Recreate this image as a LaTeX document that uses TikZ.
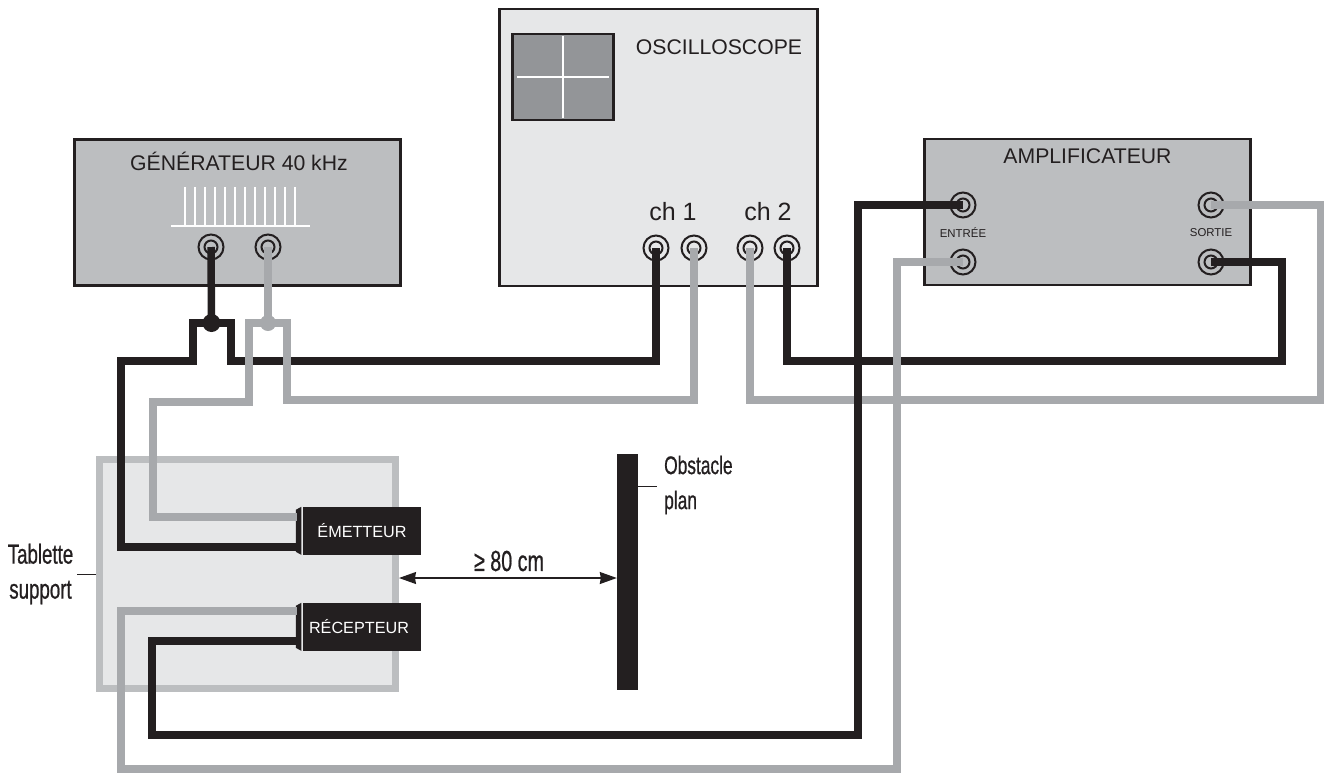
\documentclass[tikz,border=0pt]{standalone}
\usepackage{fontspec}
\setmainfont{Liberation Sans}
\newfontfamily\narrowfont[FakeStretch=0.68,FakeBold=0.7]{Liberation Sans}
\usetikzlibrary{arrows.meta}

\definecolor{wireblack}{HTML}{231F20}
\definecolor{wiregray}{HTML}{A7A9AC}
\definecolor{boxgray}{HTML}{BCBEC0}
\definecolor{boxlight}{HTML}{E6E7E8}
\definecolor{screengray}{HTML}{939598}

\tikzset{
  device/.style={draw=wireblack, line width=2.5, rectangle, inner sep=0},
  jack/.style={circle, draw=wireblack, line width=2, minimum size=25, inner sep=0,
    path picture={\draw[wireblack, line width=2] (path picture bounding box.center) circle (6.5);}},
  probe/.style={fill=wireblack, text=white, rectangle, minimum width=118, minimum height=48,
    inner sep=0, font=\fontsize{16.2}{18}\selectfont},
  title/.style={text=wireblack, inner sep=0, font=\fontsize{21.2}{23}\selectfont},
  tiny/.style={text=wireblack, inner sep=0, font=\fontsize{11.4}{12}\selectfont},
  note/.style={text=wireblack, inner sep=0, font=\narrowfont\fontsize{25.5}{35}\selectfont},
  blackwire/.style={draw=wireblack, line width=7.5},
  graywire/.style={draw=wiregray, line width=7.5}
}

\begin{document}
\begin{tikzpicture}[x=1pt, y=-1pt]
      \useasboundingbox (0,0) rectangle (1324,772);

      % support and obstacle
      \node (tablette) at (247.5,574) [draw=boxgray, line width=7, fill=boxlight,
      minimum width=296, minimum height=229, inner sep=0] {};

      \node (obstacle) at (627.5,572) [fill=wireblack, minimum width=21,
      minimum height=236, inner sep=0] {};

      % the three devices
      \node (gen) at (237.5,212.5) [device, fill=boxgray, minimum width=326, minimum height=146] {};

      \node (scope) at (658.5,147.5) [device, fill=boxlight, minimum width=318, minimum height=277] {};

      \node (ampli) at (1087.5,212) [device, fill=boxgray, minimum width=326, minimum height=146] {};

      \node (screen) at (563,77) [device, fill=screengray, minimum width=101, minimum height=86] {};

      \draw[white, line width=1.5] (563,36) -- (563,118);
      \draw[white, line width=1.5] (517,77) -- (609,77);

      % pulses
      \foreach \x in {185,195,...,295}
        \draw[white, line width=1.2] (\x,187) -- (\x,226);
      \draw[white, line width=1.5] (171,226) -- (310,226);

      \node (gentitle) at (239,161) [title] {GÉNÉRATEUR 40 kHz};
      \node (scopetitle) at (719,47) [title] {OSCILLOSCOPE};
      \node (amptitle) at (1087.5,156) [title] {AMPLIFICATEUR};
      \node (chone) at (673,212) [title, font=\fontsize{25}{27}\selectfont] {ch 1};
      \node (chtwo) at (768,212) [title, font=\fontsize{25}{27}\selectfont] {ch 2};
      \node (entree) at (963,233) [tiny] {ENTRÉE};
      \node (sortie) at (1211,233) [tiny] {SORTIE};

      % jacks
      \node (genblack) at (211,247) [jack] {};
      \node (gengray) at (268,247) [jack] {};
      \node (chonea) at (656,248) [jack] {};
      \node (choneb) at (694,248) [jack] {};
      \node (chtwoa) at (750,248) [jack] {};
      \node (chtwob) at (787,248) [jack] {};
      \node (inblack) at (963,205) [jack] {};
      \node (ingray) at (963,262) [jack] {};
      \node (outgray) at (1211,205) [jack] {};
      \node (outblack) at (1211,262) [jack] {};

      % emitter and receiver
      \node (emetteur) at (362,531) [probe] {ÉMETTEUR};
      \node (recepteur) at (362,627) [probe] {RÉCEPTEUR\hspace*{6pt}};

      \foreach \probe in {emetteur,recepteur}
        \fill[wireblack] ([xshift=-1.5]\probe.north west) -- ++(-5.5,3) -- ++(0,42) -- ++(5.5,3) -- cycle;

      \coordinate (emgray) at ([xshift=-6,yshift=14]emetteur.west);
      \coordinate (emblack) at ([xshift=-6,yshift=-16]emetteur.west);
      \coordinate (regray) at ([xshift=-6,yshift=16]recepteur.west);
      \coordinate (reblack) at ([xshift=-6,yshift=-14]recepteur.west);

      % junctions
      \node (dotblack) at (211.5,323) [circle, fill=wireblack, minimum size=18, inner sep=0] {};
      \node (dotgray) at (268,323) [circle, fill=wiregray, minimum size=16, inner sep=0] {};

      % cables
      \draw[graywire] (chtwoa.center) |- (1321,400) |- (outgray.center);

      \draw[blackwire] (inblack.center) -| (858,735) -| (152,641) |- (reblack);

      \draw[blackwire] (chtwob.center) |- (1282,361) |- (outblack.center);

      \draw[blackwire] (genblack.center) -- (dotblack.center);
      \draw[blackwire] (dotblack.center) -| (193,361) -| (121,547) -- (emblack);
      \draw[blackwire] (dotblack.center) -| (231,361) -| (chonea.center);

      \draw[graywire] (gengray.center) -- (dotgray.center);
      \draw[graywire] (dotgray.center) -| (249,402) -| (153,517) -- (emgray);
      \draw[graywire] (dotgray.center) -| (287,400) -| (choneb.center);

      \draw[graywire] (ingray.center) -| (897,769) -| (121,611) -- (regray);

      % distance and labels
      \draw[{Stealth[length=17,width=12,inset=1]}-{Stealth[length=17,width=12,inset=1]}, wireblack, line width=1.3]
      ([yshift=-4]tablette.east) -- ([yshift=-4]tablette.east -| obstacle.west);

      \node (distance) at (509,561) [note, font=\narrowfont\fontsize{29}{35}\selectfont] {≥ 80 cm};

      \node (obstaclelabel) at (664,485) [note, anchor=west, align=left] {Obstacle\\plan};
      \draw[wireblack, line width=0.8] (obstacle.east |- 0,486) -- (657,486);

      \node (tablettelabel) at (40.5,574) [note, align=center, font=\narrowfont\fontsize{27.5}{35}\selectfont] {Tablette\\support};
      \draw[wireblack, line width=0.8] (tablette.west) -- (77,574);
\end{tikzpicture}
\end{document}
